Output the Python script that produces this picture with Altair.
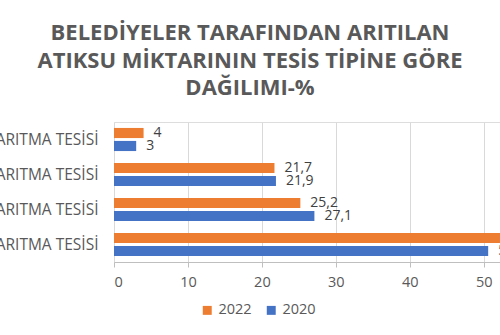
import altair as alt
import pandas as pd

categories = ["DOĞAL ARITMA TESİSİ", "FİZİKSEL ARITMA TESİSİ", "BİYOLOJİK ARITMA TESİSİ", "İLERİ ARITMA TESİSİ"]
values_2022 = [4, 21.7, 25.2, 53.1]
values_2020 = [3, 21.9, 27.1, 50.6]
years = ["2022", "2020"]
x_ticks = [0, 10, 20, 30, 40, 50]

rows = []
for c, v in zip(categories, values_2022):
    rows.append({"cat": c, "year": "2022", "val": v, "lab": f"{v:g}".replace(".", ",")})
for c, v in zip(categories, values_2020):
    rows.append({"cat": c, "year": "2020", "val": v, "lab": f"{v:g}".replace(".", ",")})
df = pd.DataFrame(rows)

GRAY = "#595959"
FONT = "Open Sans"

y_enc = alt.Y("cat:N", sort=categories, title=None,
              scale=alt.Scale(paddingInner=0.34, paddingOuter=0.17),
              axis=alt.Axis(ticks=False, domain=False, labelFont=FONT, labelFontSize=15.5,
                            labelColor=GRAY, labelPadding=16, labelLimit=400))
yoff = alt.YOffset("year:N", sort=years, scale=alt.Scale(domain=years, paddingInner=0.22))

base = alt.Chart(df).encode(y=y_enc, yOffset=yoff)

bars = base.mark_bar(clip=True).encode(
    x=alt.X("val:Q", title=None,
            scale=alt.Scale(domain=[0, 52.2], nice=False),
            axis=alt.Axis(values=x_ticks, labelFont=FONT, labelFontSize=14.5, labelColor=GRAY,
                          domainColor="#bfbfbf", tickColor="#bfbfbf", tickSize=5,
                          gridColor="#d9d9d9", labelPadding=8)),
    color=alt.Color("year:N", sort=years,
                    scale=alt.Scale(domain=years, range=["#ED7D31", "#4472C4"]),
                    legend=alt.Legend(title=None, orient="none", legendX=86, legendY=181,
                                      direction="horizontal", symbolType="square", symbolSize=80,
                                      labelFont=FONT, labelFontSize=14.5, labelColor=GRAY,
                                      labelOffset=4, columnPadding=12)),
)

texts = base.mark_text(align="left", baseline="middle", dx=10, font=FONT, fontSize=14,
                       color="#404040").encode(
    x=alt.X("val:Q"),
    text="lab:N",
)

chart = alt.layer(bars, texts).properties(
    width=386, height=140,
    title=alt.TitleParams(
        ["BELEDİYELER TARAFINDAN  ARITILAN", "ATIKSU MİKTARININ TESİS TİPİNE GÖRE", "DAĞILIMI-%"],
        font=FONT, fontSize=22, fontWeight="bold", color=GRAY, anchor="middle",
        dx=-57, lineHeight=27.5, offset=22),
    autosize=alt.AutoSizeParams(type="none"),
    padding={"left": 114, "top": 122, "right": 0, "bottom": 73},
).configure_view(stroke=None).configure(background="white")

chart.save("out.html", embed_options={"renderer": "svg", "actions": False})
